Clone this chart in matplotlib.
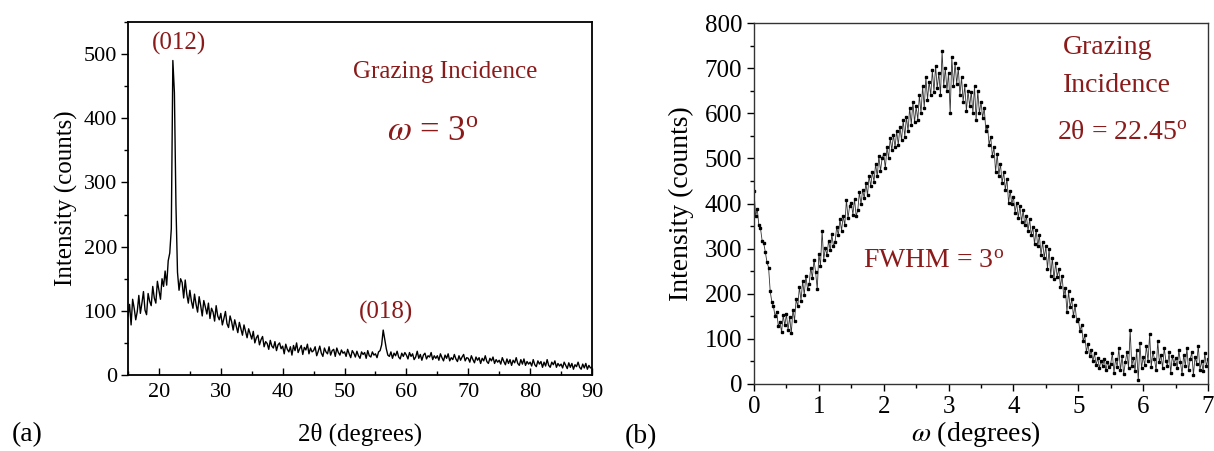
import numpy as np
import matplotlib
matplotlib.use("Agg")
import matplotlib.pyplot as plt
from matplotlib.ticker import MultipleLocator

# ---------------- data: panel (a) ----------------
two_theta = np.round(np.arange(15, 90.001, 0.25), 3)
intensity_a = (
    [92, 110, 78, 118, 104, 86, 99, 124, 96, 112, 130, 101, 94, 127, 115, 108, 138, 120, 112, 146] +
    [132, 118, 150, 138, 162, 140, 178, 190, 228, 490, 440, 265, 160, 132, 150, 144, 120, 148, 126, 112] +
    [132, 115, 104, 126, 110, 98, 122, 108, 92, 116, 106, 95, 112, 88, 104, 98, 84, 108, 92, 86] +
    [96, 78, 88, 99, 80, 74, 92, 83, 70, 86, 76, 66, 82, 72, 62, 78, 68, 58, 72, 64] +
    [56, 68, 50, 58, 62, 47, 55, 60, 44, 52, 49, 40, 54, 45, 42, 52, 38, 47, 50, 41] +
    [45, 33, 48, 40, 36, 44, 31, 46, 38, 50, 35, 41, 46, 32, 43, 39, 48, 33, 42, 36] +
    [38, 44, 30, 37, 45, 34, 29, 42, 36, 33, 44, 31, 38, 40, 29, 42, 35, 31, 39, 34] +
    [36, 29, 40, 33, 27, 38, 34, 28, 37, 30, 26, 36, 32, 35, 26, 38, 30, 28, 36, 31] +
    [33, 27, 36, 38, 47, 70, 55, 41, 31, 29, 36, 26, 34, 30, 37, 28, 25, 34, 29, 35] +
    [31, 25, 35, 29, 33, 24, 28, 37, 26, 32, 23, 31, 34, 25, 30, 28, 35, 24, 30, 26] +
    [30, 23, 33, 27, 22, 31, 26, 33, 22, 27, 24, 32, 25, 21, 30, 23, 28, 32, 22, 27] +
    [26, 20, 30, 24, 19, 28, 23, 27, 18, 26, 22, 30, 21, 18, 26, 22, 28, 18, 24, 20] +
    [23, 17, 27, 21, 16, 25, 18, 24, 15, 23, 19, 27, 18, 15, 24, 17, 25, 15, 21, 17] +
    [20, 14, 24, 16, 13, 22, 17, 21, 12, 20, 14, 24, 15, 12, 20, 16, 22, 12, 18, 14] +
    [17, 11, 20, 15, 10, 19, 12, 18, 9, 16, 13, 20, 12, 9, 17, 11, 18, 9, 15, 11] +
    [12]
)

# ---------------- data: panel (b) ----------------
omega = np.round(np.arange(0, 7.001, 0.025), 3)
intensity_b = (
    [428, 372, 388, 352, 345, 318, 312, 292, 270, 258, 205, 182, 172, 150, 160, 128, 138, 115, 152, 130] +
    [155, 120, 148, 112, 165, 140, 188, 172, 215, 185, 228, 198, 240, 210, 222, 258, 235, 275, 248, 210] +
    [288, 262, 340, 275, 302, 285, 318, 296, 332, 305, 315, 348, 330, 365, 340, 372, 352, 408, 368, 395] +
    [402, 375, 410, 372, 385, 425, 398, 430, 412, 445, 418, 462, 438, 470, 448, 488, 460, 505, 472, 500] +
    [510, 478, 525, 500, 545, 518, 552, 525, 560, 530, 570, 540, 585, 548, 592, 560, 612, 575, 625, 580] +
    [615, 585, 640, 600, 660, 612, 680, 630, 670, 640, 695, 648, 705, 655, 690, 640, 738, 660, 700, 650] +
    [690, 600, 725, 660, 712, 665, 700, 640, 680, 625, 662, 605, 650, 615, 648, 600, 660, 585, 650, 600] +
    [625, 590, 612, 560, 572, 530, 548, 505, 525, 470, 510, 462, 488, 445, 470, 430, 455, 402, 428, 398] +
    [415, 380, 402, 368, 395, 360, 385, 352, 372, 340, 365, 330, 348, 310, 342, 305, 330, 285, 315, 280] +
    [305, 255, 300, 240, 280, 232, 268, 238, 255, 215, 240, 195, 212, 160, 205, 170, 188, 150, 175, 140] +
    [145, 118, 130, 95, 108, 72, 88, 62, 75, 50, 68, 42, 58, 35, 52, 40, 55, 30, 48, 38] +
    [45, 68, 25, 55, 38, 80, 30, 62, 22, 48, 70, 35, 120, 40, 58, 28, 75, 8, 90, 35] +
    [60, 42, 85, 50, 110, 38, 72, 55, 30, 95, 48, 65, 35, 80, 52, 40, 70, 25, 62, 45] +
    [58, 35, 75, 48, 22, 65, 40, 80, 30, 55, 70, 20, 60, 45, 85, 32, 50, 28, 68, 40] +
    [55]
)

xticks_a = [20, 30, 40, 50, 60, 70, 80, 90]
yticks_a = [0, 100, 200, 300, 400, 500]
xticks_b = [0, 1, 2, 3, 4, 5, 6, 7]
yticks_b = [0, 100, 200, 300, 400, 500, 600, 700, 800]

RED = '#8B1A1A'
plt.rcParams['font.family'] = ['Liberation Serif', 'DejaVu Serif']
plt.rcParams['mathtext.fontset'] = 'stix'

fig = plt.figure(figsize=(12.14, 4.51), dpi=100)
fig.patch.set_facecolor('white')

# ---------- panel (a) ----------
ax1 = fig.add_axes([128/1214, 76/451, 464/1214, 353/451])
ax1.plot(two_theta, intensity_a, color='black', lw=1.0)
ax1.set_xlim(15, 90)
ax1.set_ylim(0, 550)
ax1.set_xticks(xticks_a)
ax1.set_yticks(yticks_a)
ax1.xaxis.set_minor_locator(MultipleLocator(5))
ax1.yaxis.set_minor_locator(MultipleLocator(50))
ax1.tick_params(axis='x', which='major', direction='in', length=5, width=1, labelsize=16, pad=6)
ax1.tick_params(axis='x', which='minor', direction='in', length=3, width=1)
ax1.tick_params(axis='y', which='major', direction='out', length=5, width=1, labelsize=16, pad=3)
ax1.tick_params(axis='y', which='minor', direction='out', length=3, width=1)
for s in ax1.spines.values():
    s.set_linewidth(1.3)
ax1.set_xlabel('2θ (degrees)', fontsize=18)
ax1.set_ylabel('Intensity (counts)', fontsize=18)
ax1.xaxis.set_label_coords(0.5, -0.135)
ax1.yaxis.set_label_coords(-0.108, 0.5)
ax1.text(0.11, 0.94, '(012)', transform=ax1.transAxes, color=RED, fontsize=18, ha='center', va='center')
ax1.text(0.683, 0.858, 'Grazing Incidence', transform=ax1.transAxes, color=RED, fontsize=18, ha='center', va='center')
ax1.text(0.657, 0.686, r'$\omega$ = 3$^{\mathregular{o}}$', transform=ax1.transAxes, color=RED, fontsize=25, ha='center', va='center')
ax1.text(0.556, 0.178, '(018)', transform=ax1.transAxes, color=RED, fontsize=18, ha='center', va='center')
fig.text(12/1214, 1 - 435/451, '(a)', fontsize=20, ha='left', va='center')

# ---------- panel (b) ----------
ax2 = fig.add_axes([754/1214, 67/451, 454/1214, 361/451])
ax2.plot(omega, intensity_b, color='#333333', lw=0.6, marker='s', ms=1.8,
         mfc='black', mec='black')
ax2.set_xlim(0, 7)
ax2.set_ylim(0, 800)
ax2.set_xticks(xticks_b)
ax2.set_yticks(yticks_b)
ax2.xaxis.set_minor_locator(MultipleLocator(0.5))
ax2.yaxis.set_minor_locator(MultipleLocator(50))
ax2.tick_params(axis='both', which='major', direction='out', length=5, width=1, labelsize=18)
ax2.tick_params(axis='both', which='minor', direction='out', length=3, width=1)
for s in ax2.spines.values():
    s.set_linewidth(1.0)
    s.set_color('#333333')
ax2.set_xlabel(r'$\omega$ (degrees)', fontsize=20)
ax2.set_ylabel('Intensity (counts)', fontsize=20)
ax2.xaxis.set_label_coords(0.49, -0.098)
ax2.yaxis.set_label_coords(-0.132, 0.5)
ax2.text(0.68, 0.931, 'Grazing', transform=ax2.transAxes, color=RED, fontsize=20, ha='left', va='center')
ax2.text(0.68, 0.828, 'Incidence', transform=ax2.transAxes, color=RED, fontsize=20, ha='left', va='center')
ax2.text(0.667, 0.698, '2θ = 22.45$^{\\mathregular{o}}$', transform=ax2.transAxes, color=RED, fontsize=20, ha='left', va='center')
ax2.text(0.24, 0.338, 'FWHM = 3$^{\\mathregular{o}}$', transform=ax2.transAxes, color=RED, fontsize=20, ha='left', va='center')
fig.text(625/1214, 1 - 437/451, '(b)', fontsize=20, ha='left', va='center')

fig.savefig('out.png', dpi=100, facecolor='white')
